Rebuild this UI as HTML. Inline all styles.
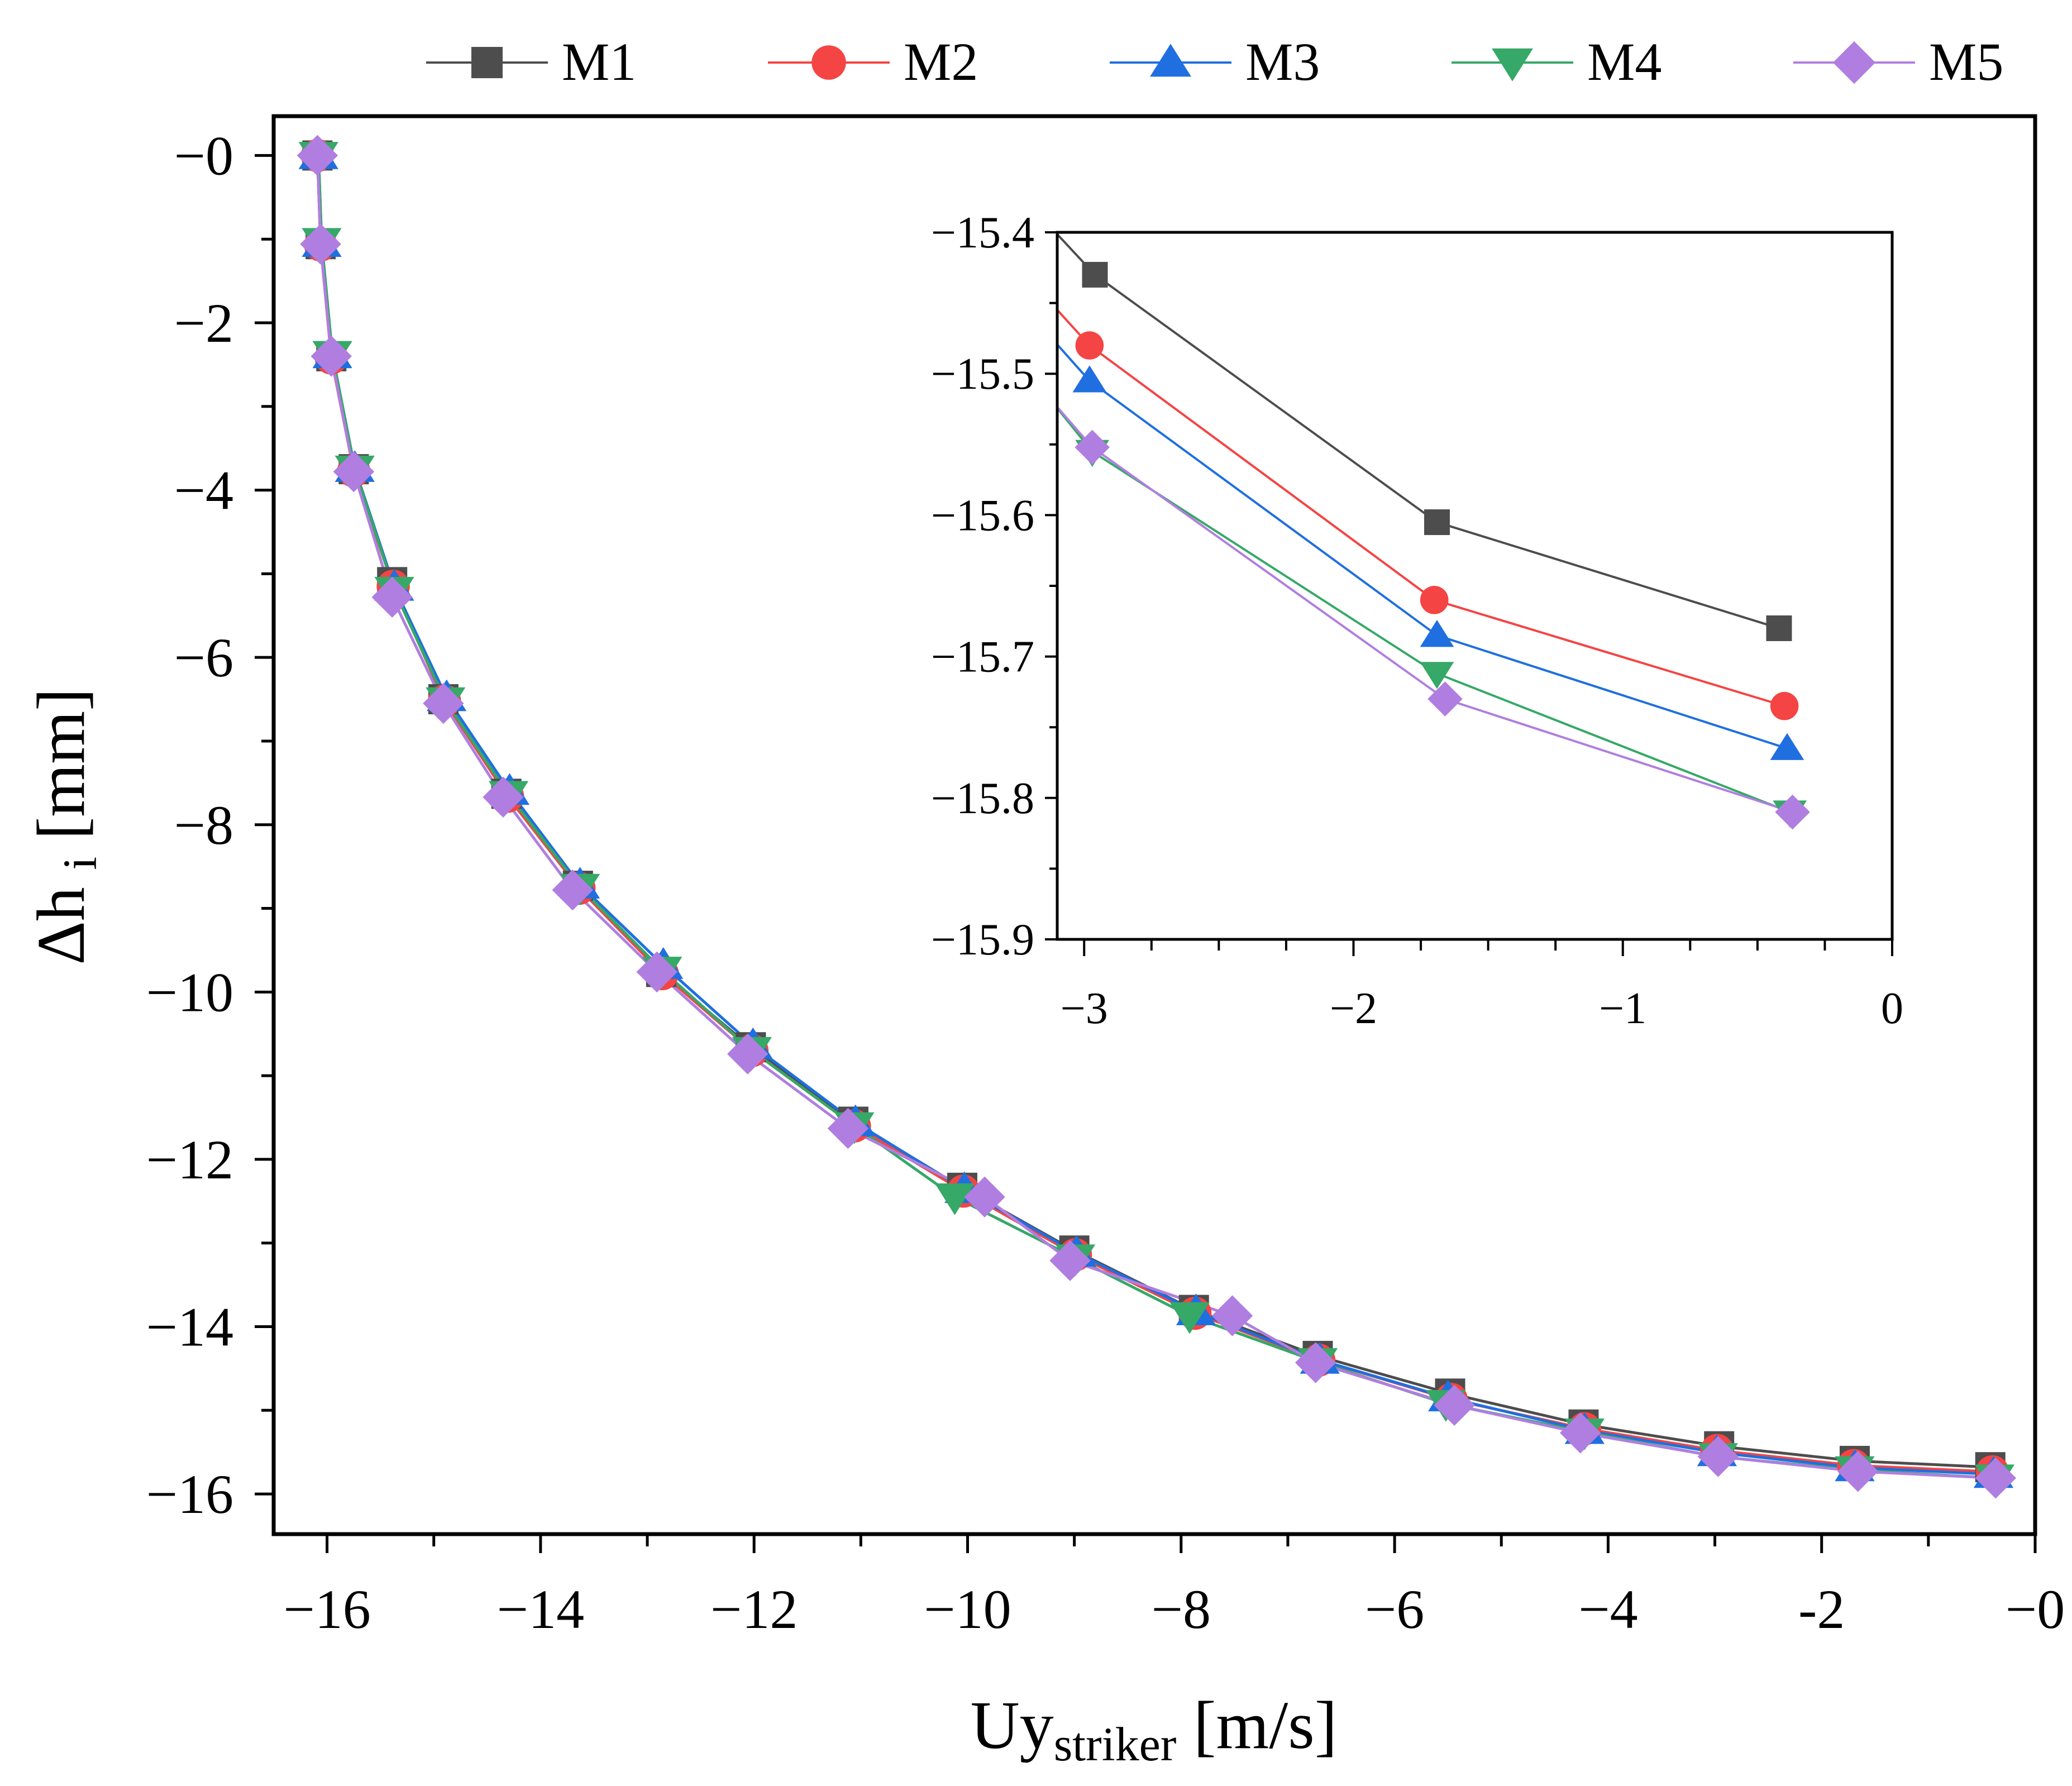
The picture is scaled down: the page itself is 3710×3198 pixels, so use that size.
<!DOCTYPE html>
<html><head><meta charset="utf-8"><style>
html,body{margin:0;padding:0;background:#fff}
svg{display:block}
text{font-family:"Times New Roman","Liberation Serif",serif;fill:#000}
</style></head><body>
<svg id="chart" width="3710" height="3198" viewBox="0 0 3710 3198" xmlns="http://www.w3.org/2000/svg">
<defs><clipPath id="insetClip"><rect x="1893" y="416" width="1495" height="1266"/></clipPath>
<clipPath id="mainClip"><rect x="490" y="208" width="3154" height="2539"/></clipPath></defs>
<g id="main"></g>
<g id="inset"></g>
<g id="legend"></g>
<text transform="translate(150,1480) rotate(-90)" text-anchor="middle" font-size="122">Δh <tspan font-size="86" dy="22">i</tspan><tspan dy="-22"> [mm]</tspan></text>
<text x="2066" y="3130" text-anchor="middle" font-size="122">Uy<tspan font-size="86" dy="22">striker</tspan><tspan dy="-22"> [m/s]</tspan></text>
</svg>
<script>
const seriesNames = ["M1","M2","M3","M4","M5"];
const seriesColors = ["#4d4d4d","#f44444","#1f6fe0","#36a867","#b07ee0"];
const markerShapes = ["square","circle","triangle","tridown","diamond"];
const xM1 = [-16.09,-16.06,-15.96,-15.75,-15.39,-14.91,-14.32,-13.65,-12.87,-12.03,-11.07,-10.05,-9.0,-7.88,-6.72,-5.48,-4.23,-2.96,-1.69,-0.42];
const yM1 = [0,-1.06,-2.4,-3.75,-5.1,-6.5,-7.63,-8.73,-9.76,-10.66,-11.55,-12.34,-13.09,-13.8,-14.35,-14.8,-15.17,-15.43,-15.605,-15.68];
const xM2 = [-16.09,-16.06,-15.96,-15.75,-15.38,-14.9,-14.31,-13.64,-12.86,-12.02,-11.06,-10.04,-8.99,-7.87,-6.71,-5.47,-4.22,-2.98,-1.70,-0.40];
const yM2 = [0,-1.07,-2.42,-3.77,-5.15,-6.52,-7.66,-8.76,-9.78,-10.7,-11.6,-12.38,-13.14,-13.84,-14.4,-14.87,-15.22,-15.48,-15.66,-15.735];
const xM3 = [-16.08,-16.05,-15.95,-15.74,-15.37,-14.88,-14.29,-13.63,-12.85,-12.01,-11.05,-10.03,-8.98,-7.86,-6.7,-5.5,-4.22,-2.98,-1.69,-0.39];
const yM3 = [0,-1.05,-2.38,-3.74,-5.16,-6.48,-7.6,-8.72,-9.68,-10.64,-11.56,-12.36,-13.12,-13.82,-14.4,-14.85,-15.24,-15.505,-15.685,-15.765];
const xM4 = [-16.08,-16.05,-15.95,-15.74,-15.37,-14.89,-14.3,-13.63,-12.86,-12.02,-11.06,-10.12,-8.99,-7.92,-6.72,-5.52,-4.22,-2.97,-1.69,-0.38];
const yM4 = [0,-1.03,-2.38,-3.75,-5.2,-6.52,-7.64,-8.75,-9.74,-10.7,-11.6,-12.45,-13.18,-13.87,-14.42,-14.92,-15.26,-15.555,-15.712,-15.81];
const xM5 = [-16.09,-16.06,-15.96,-15.75,-15.39,-14.91,-14.35,-13.7,-12.91,-12.06,-11.12,-9.84,-9.04,-7.52,-6.74,-5.44,-4.26,-2.97,-1.66,-0.37];
const yM5 = [0,-1.06,-2.4,-3.78,-5.28,-6.55,-7.67,-8.78,-9.76,-10.74,-11.63,-12.45,-13.21,-13.87,-14.43,-14.94,-15.27,-15.552,-15.73,-15.81];
const mainXTicks = [-16,-14,-12,-10,-8,-6,-4,-2,0];
const mainXTickLabels = ["−16","−14","−12","−10","−8","−6","−4","-2","−0"];
const mainYTicks = [0,-2,-4,-6,-8,-10,-12,-14,-16];
const mainYTickLabels = ["−0","−2","−4","−6","−8","−10","−12","−14","−16"];
const insetXTicks = [-3,-2,-1,0];
const insetXTickLabels = ["−3","−2","−1","0"];
const insetYTicks = [-15.4,-15.5,-15.6,-15.7,-15.8,-15.9];
const insetYTickLabels = ["−15.4","−15.5","−15.6","−15.7","−15.8","−15.9"];

const NS="http://www.w3.org/2000/svg";
const xs=[xM1,xM2,xM3,xM4,xM5], ys=[yM1,yM2,yM3,yM4,yM5];
function mk(tag,attrs,parent){const e=document.createElementNS(NS,tag);for(const k in attrs)e.setAttribute(k,attrs[k]);parent.appendChild(e);return e;}
function marker(shape,cx,cy,s,color,parent){
  let e;
  if(shape==="square")e=mk("rect",{x:cx-s/2,y:cy-s/2,width:s,height:s,fill:color},parent);
  else if(shape==="circle")e=mk("circle",{cx:cx,cy:cy,r:s*0.55,fill:color},parent);
  else if(shape==="triangle"){const h=s*0.6;e=mk("polygon",{points:`${cx},${cy-h} ${cx+h*1.1},${cy+h*0.75} ${cx-h*1.1},${cy+h*0.75}`,fill:color},parent);}
  else if(shape==="tridown"){const h=s*0.6;e=mk("polygon",{points:`${cx},${cy+h} ${cx+h*1.1},${cy-h*0.75} ${cx-h*1.1},${cy-h*0.75}`,fill:color},parent);}
  else {const h=s*0.68;e=mk("polygon",{points:`${cx},${cy-h} ${cx+h},${cy} ${cx},${cy+h} ${cx-h},${cy}`,fill:color},parent);}
  return e;
}
function drawPlot(g,L,T,R,B,xmin,xmax,ymin,ymax,ms,lw,clip){
  const X=v=>L+(v-xmin)/(xmax-xmin)*(R-L), Y=v=>T+(ymax-v)/(ymax-ymin)*(B-T);
  const sg=mk("g",{"clip-path":`url(#${clip})`},g);
  for(let s=0;s<5;s++){
    const pts=xs[s].map((x,i)=>X(x)+","+Y(ys[s][i])).join(" ");
    const pl=mk("polyline",{points:pts,fill:"none",stroke:seriesColors[s],"stroke-width":lw},sg);
    
    
  }
  for(let s=0;s<5;s++){
    xs[s].forEach((x,i)=>{
      const m=marker(markerShapes[s],X(x),Y(ys[s][i]),ms,seriesColors[s],sg);
      
      
    });
  }
  return {X,Y};
}
const g=document.getElementById("main");
const M={L:490,T:208,R:3644,B:2747};
const mp=drawPlot(g,M.L,M.T,M.R,M.B,-16.5,0,-16.48,0.47,54,5,"mainClip");
const fr=mk("rect",{x:M.L,y:M.T,width:M.R-M.L,height:M.B-M.T,fill:"none",stroke:"#000","stroke-width":7},g);

for(let v=-16;v<=0;v+=1){const x=mp.X(v);const maj=v%2===0;mk("line",{x1:x,y1:M.B,x2:x,y2:M.B+(maj?34:22),stroke:"#000","stroke-width":5},g);}
for(let v=-16;v<=0;v+=1){const y=mp.Y(v);const maj=v%2===0;mk("line",{x1:M.L,y1:y,x2:M.L-(maj?34:22),y2:y,stroke:"#000","stroke-width":5},g);}
mainXTicks.forEach((v,i)=>{const t=mk("text",{x:mp.X(v),y:2915,"text-anchor":"middle","font-size":100},g);t.textContent=mainXTickLabels[i];
 });
mainYTicks.forEach((v,i)=>{const t=mk("text",{x:418,y:mp.Y(v)+34,"text-anchor":"end","font-size":100},g);t.textContent=mainYTickLabels[i];
 });
const gi=document.getElementById("inset");
const I={L:1893,T:416,R:3388,B:1682};
mk("rect",{x:I.L,y:I.T,width:I.R-I.L,height:I.B-I.T,fill:"#fff"},gi);
const ip=drawPlot(gi,I.L,I.T,I.R,I.B,-3.1,0,-15.9,-15.4,46,4,"insetClip");
const fi=mk("rect",{x:I.L,y:I.T,width:I.R-I.L,height:I.B-I.T,fill:"none",stroke:"#000","stroke-width":5},gi);

for(let k=0;k<=12;k++){const v=-3+k*0.25;const x=ip.X(v);const maj=k%4===0;mk("line",{x1:x,y1:I.B,x2:x,y2:I.B+(maj?30:20),stroke:"#000","stroke-width":4},gi);}
for(let k=0;k<=10;k++){const v=-15.9+k*0.05;const y=ip.Y(v);const maj=k%2===0;mk("line",{x1:I.L,y1:y,x2:I.L-(maj?22:14),y2:y,stroke:"#000","stroke-width":4},gi);}
insetXTicks.forEach((v,i)=>{const t=mk("text",{x:ip.X(v),y:1832,"text-anchor":"middle","font-size":80},gi);t.textContent=insetXTickLabels[i];
 });
insetYTicks.forEach((v,i)=>{const t=mk("text",{x:1852,y:ip.Y(v)+27,"text-anchor":"end","font-size":80},gi);t.textContent=insetYTickLabels[i];
 });
const gl=document.getElementById("legend");
for(let s=0;s<5;s++){
  const x0=763+s*612;
  const eg=mk("g",{},gl);
  
  
  mk("line",{x1:x0,y1:112,x2:x0+218,y2:112,stroke:seriesColors[s],"stroke-width":4},eg);
  marker(markerShapes[s],x0+109,112,56,seriesColors[s],eg);
  const t=mk("text",{x:x0+243,y:143,"font-size":96},eg);t.textContent=seriesNames[s];
}
</script>
</body></html>
